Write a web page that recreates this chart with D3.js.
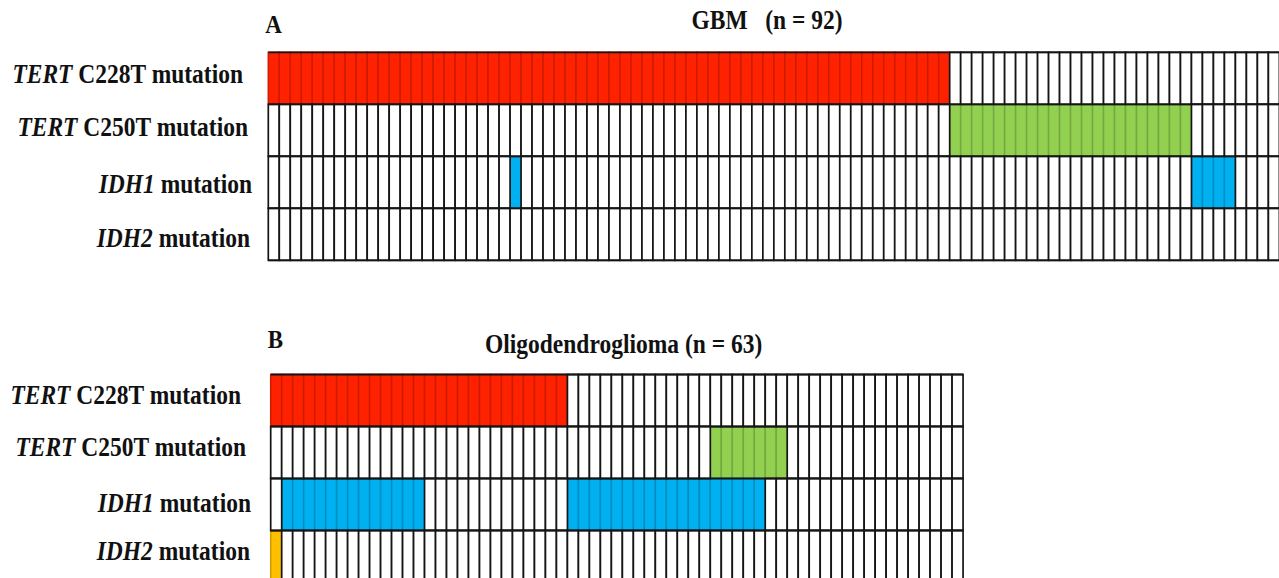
<!DOCTYPE html>
<html>
<head>
<meta charset="utf-8">
<script src="https://cdn.jsdelivr.net/npm/d3@7"></script>
<style>
  body { margin: 0; background: #fff; }
  svg text, svg tspan { font-family: "Liberation Serif", "Times New Roman", serif; font-weight: bold; fill: #111; }
</style>
</head>
<body>
<svg id="chart" width="1279" height="578"></svg>
<script>
// row labels: italic gene name + rest of label
const genes = ["TERT", "TERT", "IDH1", "IDH2"];
const labelRest = [" C228T mutation", " C250T mutation", " mutation", " mutation"];
const rowKeys = ["c228t", "c250t", "idh1", "idh2"];

// GBM (n = 92): positive samples as [first index, count] runs
const gbmN = 92;
const gbmC228T = [[0, 62]];
const gbmC250T = [[62, 22]];
const gbmIDH1 = [[22, 1], [84, 4]];
const gbmIDH2 = [];

// Oligodendroglioma (n = 63)
const oligoN = 63;
const oligoC228T = [[0, 27]];
const oligoC250T = [[40, 7]];
const oligoIDH1 = [[1, 13], [27, 18]];
const oligoIDH2 = [[0, 1]];

const rowColors = ["#ff2200", "#92d050", "#00b0f0", "#ffc000"];

const cellW = 10.99;
const stretch = 1.12; // text in the picture is a little taller than wide
const svg = d3.select("#chart");

function addText(g, x, y, size) {
  return g.append("text")
    .attr("transform", `translate(${x},${y}) scale(1,${stretch})`)
    .attr("font-size", size)
    .attr("font-family", "Liberation Serif")
    .attr("font-weight", "bold");
}

function panel(opts) {
  const { letter, title, n, runs, x0, y0, rowH, titleX, titleY, letterY, labelEnd, labelDy } = opts;

  const x = d3.scaleBand().domain(d3.range(n)).range([x0, x0 + n * cellW]);
  const y = d3.scaleBand().domain(rowKeys).range([y0, y0 + rowH * rowKeys.length]);

  const g = svg.append("g");

  // cells
  const cells = [];
  rowKeys.forEach((key, r) => {
    const hit = new Set();
    runs[r].forEach(([s, c]) => d3.range(s, s + c).forEach((i) => hit.add(i)));
    d3.range(n).forEach((i) => cells.push({ key, r, i, on: hit.has(i) }));
  });

  // coloured cells first, then white ones so black edges win
  g.selectAll("rect.on")
    .data(cells.filter((d) => d.on))
    .join("rect")
    .attr("class", "on")
    .attr("x", (d) => x(d.i))
    .attr("y", (d) => y(d.key))
    .attr("width", x.bandwidth())
    .attr("height", y.bandwidth())
    .attr("fill", (d) => rowColors[d.r])
    .attr("stroke", (d) => d3.color(rowColors[d.r]).darker(0.6))
    .attr("stroke-width", 1.5);

  g.selectAll("rect.off")
    .data(cells.filter((d) => !d.on))
    .join("rect")
    .attr("class", "off")
    .attr("x", (d) => x(d.i))
    .attr("y", (d) => y(d.key))
    .attr("width", x.bandwidth())
    .attr("height", y.bandwidth())
    .attr("fill", "#fff")
    .attr("stroke", "#151515")
    .attr("stroke-width", 1.7);

  // horizontal row lines across the whole grid
  g.selectAll("line.row")
    .data(rowKeys.concat(["end"]))
    .join("line")
    .attr("x1", x0)
    .attr("x2", x0 + n * cellW)
    .attr("y1", (d) => (d === "end" ? y.range()[1] : y(d)))
    .attr("y2", (d) => (d === "end" ? y.range()[1] : y(d)))
    .attr("stroke", "#151515")
    .attr("stroke-width", 1.8);

  // row labels
  rowKeys.forEach((key, r) => {
    const t = addText(g, labelEnd[r], y(key) + labelDy[r], "23.5px")
      .attr("text-anchor", "end");
    t.append("tspan").attr("font-style", "italic").text(genes[r]);
    t.append("tspan").text(labelRest[r]);
  });

  addText(g, x0 - 3, letterY, "23px").text(letter);

  addText(g, titleX, titleY, "23.5px")
    .attr("xml:space", "preserve")
    .style("white-space", "pre")
    .text(title);
}

panel({
  letter: "A",
  title: "GBM   (n = 92)",
  n: gbmN,
  runs: [gbmC228T, gbmC250T, gbmIDH1, gbmIDH2],
  x0: 268.3, y0: 52.3, rowH: 52,
  titleX: 691.5, titleY: 28.5, letterY: 33,
  labelEnd: [243, 248, 252, 250],
  labelDy: [31, 32, 37, 39]
});

panel({
  letter: "B",
  title: "Oligodendroglioma (n = 63)",
  n: oligoN,
  runs: [oligoC228T, oligoC250T, oligoIDH1, oligoIDH2],
  x0: 270.7, y0: 374.5, rowH: 52,
  titleX: 485, titleY: 353, letterY: 348,
  labelEnd: [241, 246, 251, 250],
  labelDy: [29, 29, 33, 29]
});
</script>
</body>
</html>
